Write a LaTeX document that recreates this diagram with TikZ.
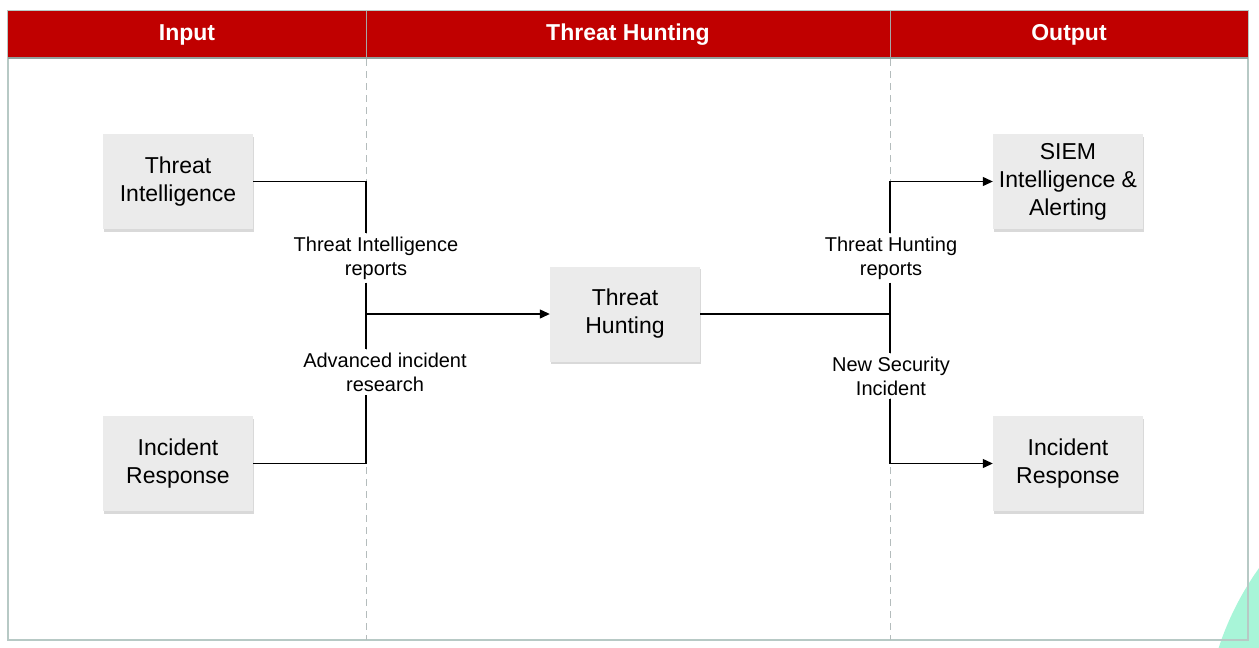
\documentclass[tikz,border=0pt]{standalone}
\usepackage{fontspec}
\setmainfont{Liberation Sans}
\usetikzlibrary{arrows.meta,shadows}
\definecolor{hdrred}{HTML}{C00000}
\definecolor{framegray}{HTML}{B7C9C5}
\definecolor{dashgray}{HTML}{B4BCBC}
\definecolor{boxgray}{HTML}{EBEBEB}
\definecolor{mint}{HTML}{A8F5D8}

\begin{document}
\begin{tikzpicture}[x = 1pt, y = -1pt,
    box/.style = {fill = boxgray, minimum width = 150pt, minimum height = 95pt,
                  align = center, font = \fontsize{23}{28}\selectfont,
                  drop shadow = {shadow xshift = .5pt, shadow yshift = -2.5pt, opacity = .3}},
    lbl/.style = {align = center, fill = white, inner sep = 3pt,
                  font = \fontsize{20}{24}\selectfont},
    hdr/.style = {text = white, font = \bfseries\fontsize{23}{28}\selectfont},
    conn/.style = {line width = 1.2pt},
    arr/.style = {conn, -{Triangle[length = 10pt, width = 9pt]}}]
  \useasboundingbox (0,0) rectangle (1259,648);
  \begin{scope}
    \clip (0,0) rectangle (1259,648);
    \fill[mint] (1500,740) circle (296pt);
  \end{scope}
  \draw[framegray, line width = 1.5pt] (8,11) rectangle (1248,640);
  \fill[hdrred] (8,11) rectangle (1248,57);
  \draw[framegray!80!black, line width = 1.5pt] (8,58) -- (1248,58);
  \draw[gray!70, line width = 1pt] (366,11) -- (366,57) (890,11) -- (890,57);
  \draw[dashgray, line width = 1pt, dash pattern = on 7pt off 5pt]
        (366,59) -- (366,640) (890,59) -- (890,640);

  \node[hdr] (hIn) at (187,35) {Input};
  \node[hdr] (hTH) at (628,35) {Threat Hunting};
  \node[hdr] (hOut) at (1069,35) {Output};

  \node[box] (ti) at (178,181.5) {Threat\\Intelligence};
  \node[box] (irIn) at (178,463.5) {Incident\\Response};
  \node[box] (th) at (625,314) {Threat\\Hunting};
  \node[box] (siem) at (1068,181.5) {SIEM\\Intelligence \&\\Alerting};
  \node[box] (irOut) at (1068,463.5) {Incident\\Response};

  \node[lbl] (tiRep) at (376,258) {Threat Intelligence\\reports};
  \node[lbl] (advRes) at (385,372) {Advanced incident\\research};
  \node[lbl] (thRep) at (891,258) {Threat Hunting\\reports};
  \node[lbl] (newInc) at (891,376) {New Security\\Incident};

  \coordinate (jIn) at (366,314);
  \coordinate (jOut) at (890,314);

  \draw[conn] (ti.east) -| (tiRep.north -| jIn);
  \draw[conn] (tiRep.south -| jIn) -- (advRes.north -| jIn);
  \draw[conn] (irIn.east) -| (advRes.south -| jIn);
  \draw[arr] (jIn) -- (th.west);
  \draw[conn] (th.east) -- (jOut);
  \draw[arr] (thRep.north -| jOut) |- (siem.west);
  \draw[conn] (thRep.south -| jOut) -- (newInc.north -| jOut);
  \draw[arr] (newInc.south -| jOut) |- (irOut.west);
\end{tikzpicture}
\end{document}
